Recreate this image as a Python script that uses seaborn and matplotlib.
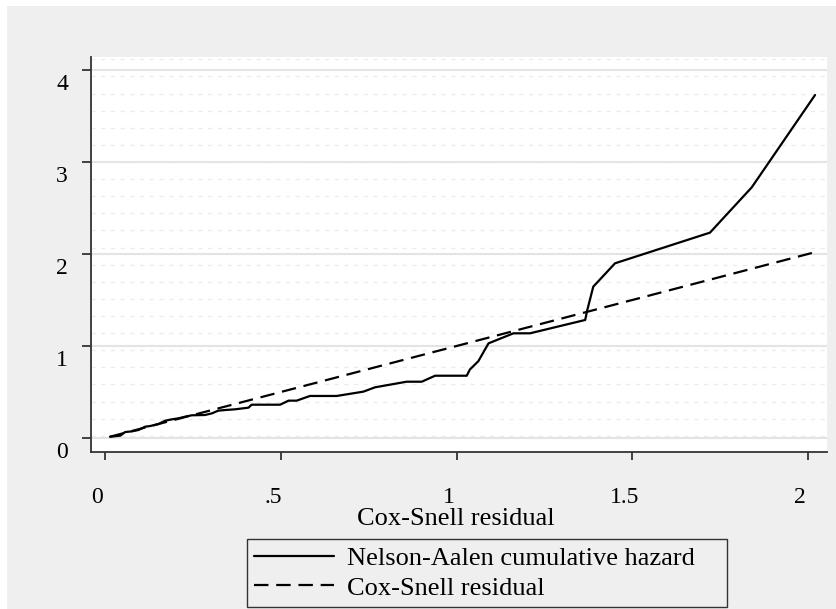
import numpy as np
import pandas as pd
import matplotlib
matplotlib.use("Agg")
import matplotlib.pyplot as plt
import matplotlib.transforms as mtransforms
from matplotlib.patches import Rectangle
import seaborn as sns

# ---- data ----
cs_resid = [0.014, 0.043, 0.057, 0.076, 0.095, 0.114, 0.128, 0.152, 0.171, 0.190,
            0.209, 0.228, 0.247, 0.284, 0.304, 0.322, 0.341, 0.370, 0.408, 0.417,
            0.498, 0.522, 0.545, 0.583, 0.659, 0.735, 0.768, 0.858, 0.901, 0.939,
            1.029, 1.038, 1.062, 1.072, 1.091, 1.162, 1.209, 1.366, 1.372, 1.389,
            1.451, 1.721, 1.840, 2.020]
na_hazard = [0.014, 0.025, 0.065, 0.072, 0.087, 0.123, 0.130, 0.152, 0.188, 0.203,
             0.214, 0.232, 0.247, 0.250, 0.268, 0.297, 0.304, 0.312, 0.330, 0.362,
             0.362, 0.406, 0.406, 0.457, 0.457, 0.504, 0.551, 0.612, 0.612, 0.677,
             0.677, 0.745, 0.835, 0.902, 1.029, 1.138, 1.138, 1.283, 1.391, 1.645,
             1.899, 2.232, 2.725, 3.728]
x_ticks = [0, 0.5, 1, 1.5, 2]
x_ticklabels = ["0", ".5", "1", "1.5", "2"]
y_ticks = [0, 1, 2, 3, 4]
y_ticklabels = ["0", "1", "2", "3", "4"]
series_labels = ["Nelson-Aalen cumulative hazard", "Cox-Snell residual"]
x_title = "Cox-Snell residual"

df = pd.DataFrame({"cs": cs_resid, "H": na_hazard})

sns.set_theme(style="white")
plt.rcParams["font.family"] = ["Liberation Serif", "DejaVu Serif"]
plt.rcParams["text.color"] = "black"
plt.rcParams["xtick.color"] = "black"
plt.rcParams["ytick.color"] = "black"

W, H = 837, 609
fig = plt.figure(figsize=(W / 100, H / 100), dpi=100, facecolor="white")
bg = "#efefef"
fig.patches.append(Rectangle((7 / W, 0), (836 - 7) / W, 1 - 6 / H,
                             transform=fig.transFigure, facecolor=bg,
                             edgecolor="none", zorder=0))

ax = fig.add_axes([91 / W, 1 - 452 / H, (827 - 91) / W, (452 - 57) / H])
ax.set_facecolor("white")
ax.set_zorder(1)

# faint background texture rows
for yy in np.arange(4.116, -0.16, -0.186):
    ax.axhline(yy, color="#ececec", lw=1.0, ls=(0, (3, 4)), zorder=0.5)
# gridlines
for yy in y_ticks:
    ax.axhline(yy, color="#e4e4e4", lw=1.5, zorder=0.6)

sns.lineplot(data=df, x="cs", y="H", ax=ax, color="black", lw=1.6,
             label=series_labels[0], sort=False, estimator=None)
sns.lineplot(data=df, x="cs", y="cs", ax=ax, color="black", lw=1.6,
             label=series_labels[1], sort=False, estimator=None,
             dashes=False)
ax.lines[-1].set_dashes((6.5, 3.5))

ax.set_xlim(-0.04, 2.054)
ax.set_ylim(-0.152, 4.141)

for s in ["top", "right"]:
    ax.spines[s].set_visible(False)
for s in ["left", "bottom"]:
    ax.spines[s].set_color("#333333")
    ax.spines[s].set_linewidth(1.3)

ax.set_xticks(x_ticks)
ax.set_yticks(y_ticks)
ax.set_xticklabels(x_ticklabels, fontsize=17, color="black")
ax.set_yticklabels(y_ticklabels, fontsize=17, color="black")
ax.tick_params(axis="x", direction="out", length=6, width=1.3, color="#333333",
               pad=19, bottom=True)
ax.tick_params(axis="y", direction="out", length=6.5, width=1.3, color="#333333",
               pad=10, left=True)
# Stata-like shifted labels
for lab in ax.get_xticklabels():
    lab.set_transform(lab.get_transform() +
                      mtransforms.ScaledTranslation(-8 / 100, 0, fig.dpi_scale_trans))
for lab in ax.get_yticklabels():
    lab.set_transform(lab.get_transform() +
                      mtransforms.ScaledTranslation(0, -12 / 100, fig.dpi_scale_trans))

ax.set_xlabel(x_title, fontsize=19, color="black")
ax.set_ylabel("")
ax.xaxis.set_label_coords((456 - 91) / (827 - 91), -(519 - 452) / (452 - 57))
ax.xaxis.label.set_va("center")

ax.get_legend().remove()
handles, labels = ax.get_legend_handles_labels()
lx0, lx1, ly0, ly1 = 247, 727, 539, 607
leg = fig.legend(handles, labels, loc="upper left",
                 bbox_to_anchor=(lx0 / W, 1 - ly1 / H, (lx1 - lx0) / W, (ly1 - ly0) / H),
                 mode="expand",
                 fontsize=19, frameon=True, fancybox=False, framealpha=1,
                 facecolor=bg, edgecolor="#333333", handlelength=3.0,
                 handletextpad=0.5, borderpad=0.28, labelspacing=0.24,
                 borderaxespad=0)
leg.get_frame().set_linewidth(1.0)
for t in leg.get_texts():
    t.set_color("black")

fig.savefig("out.png", dpi=100, facecolor="white")
